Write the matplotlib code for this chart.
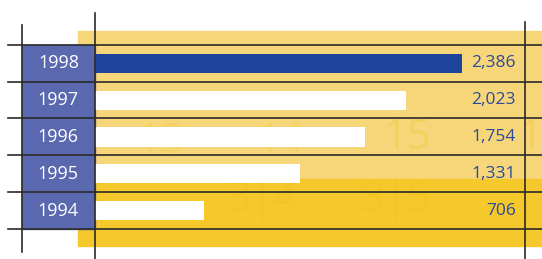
import matplotlib.pyplot as plt
from matplotlib.patches import Rectangle
from matplotlib.lines import Line2D
from matplotlib.transforms import blended_transform_factory

plt.rcParams['font.family'] = ['Open Sans', 'DejaVu Sans']

years = ['1998', '1997', '1996', '1995', '1994']
values = [2386, 2023, 1754, 1331, 706]
labels = ['2,386', '2,023', '1,754', '1,331', '706']
bar_colors = ['#1d449a', 'white', 'white', 'white', 'white']

W, H = 542, 259
fig = plt.figure(figsize=(W / 100, H / 100), dpi=100)


def fx(px):
    return px / W


def fy(py):
    return 1 - py / H


# yellow backdrop (photo of a ruler: light upper part, darker lower part)
fig.patches.append(Rectangle((fx(78), fy(179)), fx(542) - fx(78), fy(31) - fy(179),
                             transform=fig.transFigure, color='#f7d67a', zorder=0))
fig.patches.append(Rectangle((fx(78), fy(246)), fx(542) - fx(78), fy(179) - fy(246),
                             transform=fig.transFigure, color='#f5c92c', zorder=0))
# faint ruler numbers in the backdrop
for s, x, yy, c in [('13', 160, 142, '#f5d264'), ('14', 280, 142, '#f5d264'),
                    ('15', 407, 138, '#f4d05e'), ('1', 530, 138, '#f4d05e'),
                    ('3|4', 262, 200, '#f4c624'), ('3|5', 395, 200, '#f4c624')]:
    fig.text(fx(x), fy(yy), s, ha='center', va='center', fontsize=30,
             color=c, zorder=0.5)
# label column
fig.patches.append(Rectangle((fx(22), fy(229)), fx(95) - fx(22), fy(45) - fy(229),
                             transform=fig.transFigure, color='#5a68b0', zorder=1))

ax = fig.add_axes([fx(95), fy(229), fx(526) - fx(95), fy(45) - fy(229)])
ax.patch.set_alpha(0)
ax.set_zorder(2)

y = list(range(len(years)))
ax.barh(y, values, height=0.52, color=bar_colors, zorder=3)
ax.set_xlim(0, 2800)
ax.set_ylim(len(years) - 0.5, -0.5)
ax.axis('off')

trans = blended_transform_factory(ax.transAxes, ax.transData)
for i in y:
    ax.text(-0.085, i, years[i], transform=trans, ha='center', va='center',
            color='white', fontsize=13)
    ax.text(0.977, i, labels[i], transform=trans, ha='right', va='center',
            color='#2b4a9a', fontsize=12.5)

# grid lines
for b in [45, 82, 118, 155, 192, 229]:
    fig.lines.append(Line2D([fx(8), fx(542)], [fy(b), fy(b)], transform=fig.transFigure,
                            color='#2a2a2a', lw=1.2, zorder=5))
for x, y0, y1 in [(22, 25, 252), (95, 13, 259), (525, 22, 259)]:
    fig.lines.append(Line2D([fx(x), fx(x)], [fy(y0), fy(y1)], transform=fig.transFigure,
                            color='#2a2a2a', lw=1.2, zorder=5))

fig.savefig('out.png', dpi=100)
